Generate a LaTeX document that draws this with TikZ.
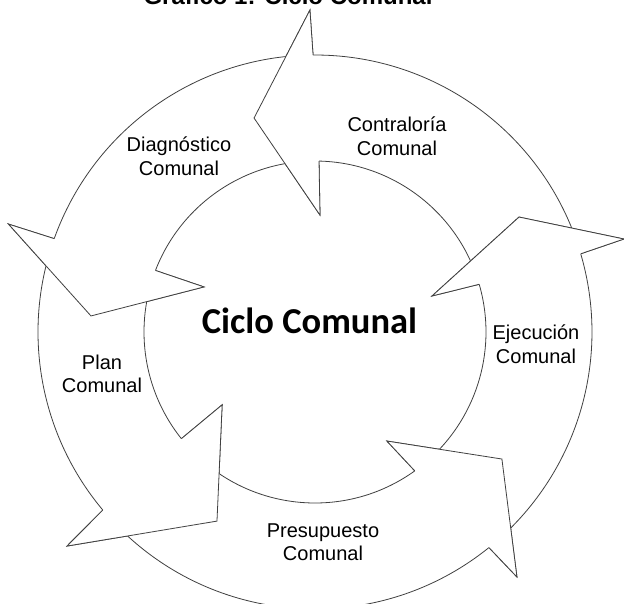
\documentclass[tikz,border=0pt]{standalone}
\usepackage{fontspec}
\setmainfont{Liberation Sans}
\newfontfamily\calibrifont{Carlito}

\begin{document}
\begin{tikzpicture}[x=1pt, y=1pt]
    \tikzstyle{block arrow}=[fill=white, draw=black!75, line width=0.8pt, line join=miter]
    \tikzstyle{head cover}=[fill=white]
    \tikzstyle{stage}=[align=center, inner sep=0pt, font=\fontsize{20}{23.5}\selectfont]
    \def\rin{171}
    \def\rout{277}
    % tail / outer shoulder / inner shoulder / outer corner / tip / inner corner
    \def\arrowlist{19.5/90.4/88.65/90.9:322/105.9:222.5/87.55:117,
                   93/160.3/158.9/160.6:325/175.9:224.6/157.9:119.8,
                   163/220.0/218.6/220.8:327.6/242.6:213/218.1:118,
                   223.5/308.9/305.7/309.5:317.5/325.8:226/303.4:130.6,
                   312/376.4/376.2/16.75:322.7/29.4:234.2/17.1:122.4}

    \useasboundingbox (-315,-271) rectangle (309,332);

    % title, only the foot of it is on the page
    \node [anchor=base, font=\bfseries\fontsize{24}{28}\selectfont] (title) at (-27,327.5) {Gráfico 1: Ciclo Comunal};

    % the five curved arrows
    \foreach \t/\os/\is/\oc/\tp/\ic in \arrowlist
    \draw [block arrow] (\t:\rin) -- (\t:\rout)
        arc [start angle=\t, end angle=\os, radius=\rout]
        -- (\oc) -- (\tp) -- (\ic) -- (\is:\rin)
        arc [start angle=\is, end angle=\t, radius=\rin] -- cycle;

    % heads once more, over the tail of the next arrow
    \foreach \t/\os/\is/\oc/\tp/\ic in \arrowlist
    {
    \fill [head cover] (\os:\rout) -- (\oc) -- (\tp) -- (\ic) -- (\is:\rin) -- cycle;
    \draw [block arrow, fill=none] (\os:\rout) -- (\oc) -- (\tp) -- (\ic) -- (\is:\rin);
    }

    % labels of the stages
    \node [stage] (contraloria) at (82,196) {Contraloría\\Comunal};
    \node [stage] (diagnostico) at (-136,176) {Diagnóstico\\Comunal};
    \node [stage] (plan) at (-213,-42) {Plan\\Comunal};
    \node [stage] (presupuesto) at (8,-210) {Presupuesto\\Comunal};
    \node [stage] (ejecucion) at (221,-12) {Ejecución\\Comunal};

    \node [anchor=base, font=\calibrifont\bfseries\fontsize{36.5}{40}\selectfont] (ciclo) at (-5.5,-1) {Ciclo Comunal};

\end{tikzpicture}
\end{document}
